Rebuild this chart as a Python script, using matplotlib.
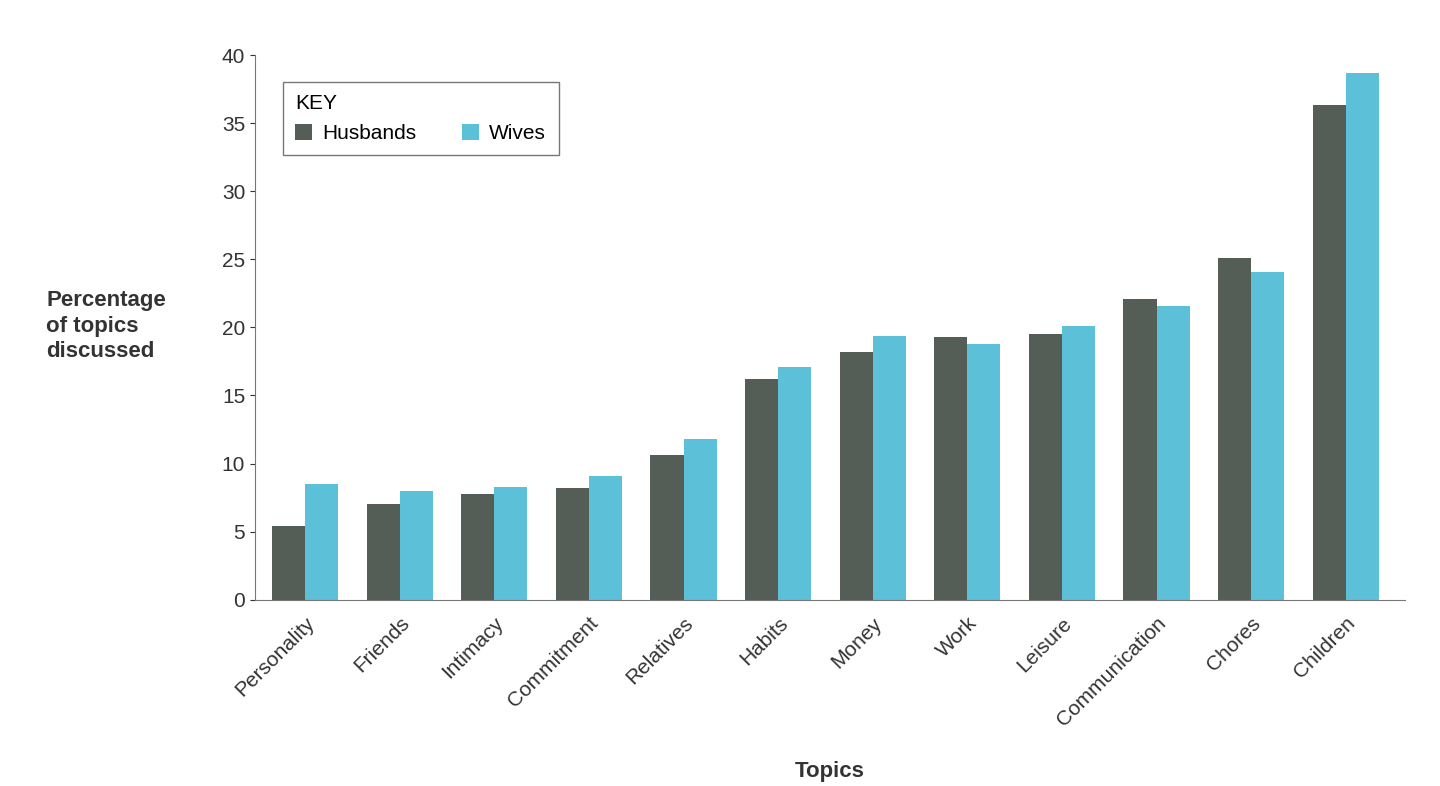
import matplotlib.pyplot as plt
import numpy as np

topics = ['Personality', 'Friends', 'Intimacy', 'Commitment', 'Relatives', 'Habits',
          'Money', 'Work', 'Leisure', 'Communication', 'Chores', 'Children']
husbands = [5.4, 7.0, 7.8, 8.2, 10.6, 16.2, 18.2, 19.3, 19.5, 22.1, 25.1, 36.3]
wives = [8.5, 8.0, 8.3, 9.1, 11.8, 17.1, 19.4, 18.8, 20.1, 21.6, 24.1, 38.7]

plt.rcParams['font.family'] = ['Liberation Sans', 'DejaVu Sans']
fig = plt.figure(figsize=(14.4, 7.86), dpi=100)
ax = fig.add_axes([0.177, 0.237, 0.799, 0.693])

x = np.arange(len(topics))
w = 0.35
ax.bar(x - w / 2, husbands, w, color='#545e57', label='Husbands')
ax.bar(x + w / 2, wives, w, color='#5cc0d8', label='Wives')

ax.set_xlim(-0.53, len(topics) - 1 + 0.63)
ax.set_ylim(0, 40)
ax.set_yticks(range(0, 41, 5))
ax.set_xticks(x)
ax.set_xticklabels(topics, rotation=45, ha='right', rotation_mode='anchor', fontsize=15, color='#333333')
ax.tick_params(axis='y', labelsize=15, colors='#333333')
ax.tick_params(axis='x', length=0, pad=10)
for s in ['top', 'right']:
    ax.spines[s].set_visible(False)
for s in ['left', 'bottom']:
    ax.spines[s].set_color('#777777')

ax.set_xlabel('Topics', fontsize=16, fontweight='bold', color='#333333', labelpad=22)
fig.text(0.032, 0.585, 'Percentage\nof topics\ndiscussed', fontsize=16, fontweight='bold',
         color='#333333', va='center', ha='left', linespacing=1.3)

leg = ax.legend(title='KEY', loc='upper left', ncol=2, fontsize=15, title_fontsize=15,
                frameon=True, fancybox=False, edgecolor='#555555', bbox_to_anchor=(0.015, 0.97),
                handlelength=0.8, handleheight=0.8, handletextpad=0.5, columnspacing=2.2, borderpad=0.6)
leg._legend_box.align = 'left'

fig.savefig('out.png')
